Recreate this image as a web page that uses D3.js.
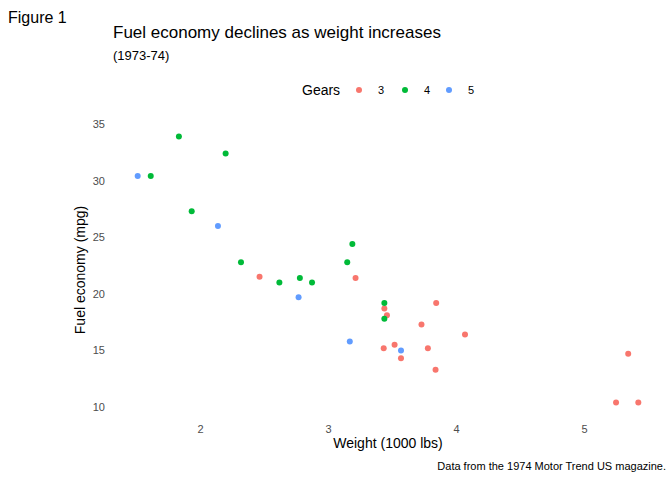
<!DOCTYPE html>
<html><head><meta charset="utf-8">
<script src="https://cdn.jsdelivr.net/npm/d3@7"></script>
<style>body{margin:0;background:#fff}text{font-family:"Liberation Sans",Arial,sans-serif}</style>
</head><body><svg id="c" width="672" height="480"></svg>
<script>
const weights=[2.620,2.875,2.320,3.215,3.440,3.460,3.570,3.190,3.150,3.440,3.440,4.070,3.730,3.780,5.250,5.424,5.345,2.200,1.615,1.835,2.465,3.520,3.435,3.840,3.845,1.935,2.140,1.513,3.170,2.770,3.570,2.780];
const mpgs=[21.0,21.0,22.8,21.4,18.7,18.1,14.3,24.4,22.8,19.2,17.8,16.4,17.3,15.2,10.4,10.4,14.7,32.4,30.4,33.9,21.5,15.5,15.2,13.3,19.2,27.3,26.0,30.4,15.8,19.7,15.0,21.4];
const gears=[4,4,4,3,3,3,3,4,4,4,4,3,3,3,3,3,3,4,4,4,3,3,3,3,3,4,5,5,5,5,5,4];
const gearLevels=[3,4,5];
const colors=["#F8766D","#00BA38","#619CFF"];
const xTicks=[2,3,4,5], yTicks=[10,15,20,25,30,35];
const svg=d3.select("#c");
const x=d3.scaleLinear().domain([1.317,5.620]).range([112.6,663.4]);
const y=d3.scaleLinear().domain([9.225,35.075]).range([415.8,123.2]);
const col=d3.scaleOrdinal().domain(gearLevels).range(colors);
svg.append("text").attr("x",8).attr("y",23).attr("font-size",16).text("Figure 1");
svg.append("text").attr("x",113).attr("y",38).attr("font-size",17).text("Fuel economy declines as weight increases");
svg.append("text").attr("x",113).attr("y",60).attr("font-size",13).text("(1973-74)");
const xa=svg.append("g").attr("transform","translate(0,420)").call(d3.axisBottom(x).tickValues(xTicks).tickSize(0).tickFormat(d3.format("d")));
const ya=svg.append("g").attr("transform","translate(108,0)").call(d3.axisLeft(y).tickValues(yTicks).tickSize(0));
[xa,ya].forEach(a=>{a.select(".domain").remove();a.selectAll("text").attr("fill","#4d4d4d").attr("font-size",11).style("font-family","Liberation Sans, Arial");});
xa.selectAll("text").attr("dy","0.9em");
svg.append("text").attr("x",388).attr("y",448).attr("text-anchor","middle").attr("font-size",14).text("Weight (1000 lbs)");
svg.append("text").attr("transform","translate(85,270) rotate(-90)").attr("text-anchor","middle").attr("font-size",14).text("Fuel economy (mpg)");
svg.append("text").attr("x",666).attr("y",470).attr("text-anchor","end").attr("font-size",11).text("Data from the 1974 Motor Trend US magazine.");
svg.append("g").selectAll("circle").data(weights.map((w,i)=>({w,m:mpgs[i],g:gears[i]}))).join("circle")
 .attr("cx",d=>x(d.w)).attr("cy",d=>y(d.m)).attr("r",3).attr("fill",d=>col(d.g));
svg.append("text").attr("x",302).attr("y",95).attr("font-size",14).text("Gears");
const lx=[359,405,449];
gearLevels.forEach((g,i)=>{
 svg.append("circle").attr("cx",lx[i]).attr("cy",90).attr("r",3).attr("fill",col(g));
 svg.append("text").attr("x",lx[i]+19).attr("y",94).attr("font-size",11).text(g);
});
</script></body></html>
